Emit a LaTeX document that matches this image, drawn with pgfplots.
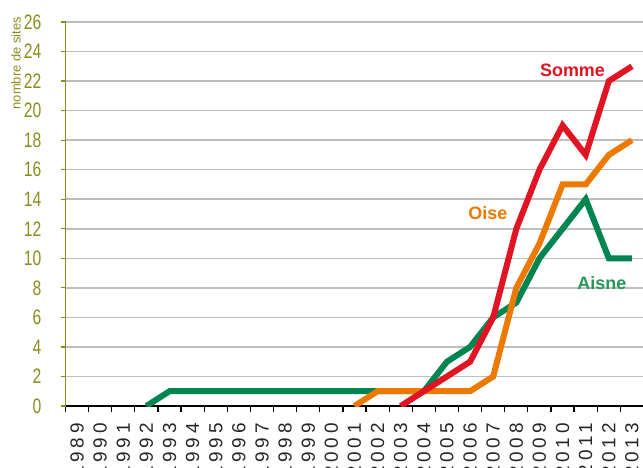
\documentclass[border=0pt]{standalone}
\usepackage{pgfplots}
\pgfplotsset{compat=1.18}
\usepackage{fontspec}
\setmainfont{Liberation Sans}

\definecolor{olivetxt}{RGB}{140,140,30}
\definecolor{aisne}{RGB}{0,133,80}
\definecolor{aisnetxt}{RGB}{40,150,90}
\definecolor{oise}{RGB}{237,122,0}
\definecolor{somme}{RGB}{224,20,35}
\definecolor{gridgray}{RGB}{192,190,188}

\begin{document}
\begin{tikzpicture}
\begin{axis}[
    width=578bp, height=384bp, scale only axis,
    xmin=1988.5, xmax=2013.5,
    ymin=0, ymax=26,
    axis x line=bottom, axis y line=left,
    x axis line style={-, black, line width=1.8bp},
    y axis line style={-, olivetxt, line width=1.4bp},
    tick align=outside,
    xtick={1989,...,2013},
    major x tick style={draw=none},
    minor xtick={1988.5,1989.5,...,2013.5},
    minor x tick style={black, line width=1.2bp},
    minor tick length=6bp,
    ytick={0,2,...,26},
    y tick style={olivetxt, line width=1.2bp},
    major tick length=5bp,
    ymajorgrids,
    grid style={gridgray, line width=1.5bp},
    xticklabel={\pgfmathprintnumber[1000 sep={}, assume math mode=true]{\tick}},
    xticklabel style={rotate=90, anchor=east, inner sep=0pt, text=black!85,
        font=\fontsize{19}{19}\selectfont\addfontfeature{LetterSpace=20}},
    xticklabel shift=12bp,
    yticklabel={\scalebox{0.75}[1]{\pgfmathprintnumber[assume math mode=true]{\tick}}},
    yticklabel style={anchor=east, inner sep=0pt, text=olivetxt,
        font=\fontsize{21}{21}\selectfont},
    yticklabel shift=19bp,
]
% Aisne
\addplot[aisne, line width=6bp] coordinates {
 (1992,0) (1993,1) (1994,1) (1995,1) (1996,1) (1997,1) (1998,1) (1999,1)
 (2000,1) (2001,1) (2002,1) (2003,1) (2004,1) (2005,3) (2006,4) (2007,6)
 (2008,7) (2009,10) (2010,12) (2011,14) (2012,10) (2013,10)};
% Oise
\addplot[oise, line width=6bp] coordinates {
 (2001,0) (2002,1) (2003,1) (2004,1) (2005,1) (2006,1) (2007,2) (2008,8)
 (2009,11) (2010,15) (2011,15) (2012,17) (2013,18)};
% Somme
\addplot[somme, line width=6bp] coordinates {
 (2003,0) (2004,1) (2005,2) (2006,3) (2007,6) (2008,12) (2009,16)
 (2010,19) (2011,17) (2012,22) (2013,23)};

\node[text=somme, font=\bfseries\fontsize{18}{18}\selectfont] at (axis cs:2010.43,22.75) {Somme};
\node[text=oise, font=\bfseries\fontsize{18}{18}\selectfont] at (axis cs:2006.77,13.07) {Oise};
\node[text=aisnetxt, font=\bfseries\fontsize{18}{18}\selectfont] at (axis cs:2011.7,8.35) {Aisne};
\end{axis}
\node[rotate=90, anchor=east, inner sep=0pt, text=olivetxt,
      font=\fontsize{13}{13}\selectfont]
      at ([shift={(-49.5bp,5bp)}]current axis.north west) {nombre de sites};
\pgfresetboundingbox
\path[use as bounding box] ([shift={(-65.5bp,-62bp)}]current axis.south west)
    rectangle ([shift={(-0.5bp,22bp)}]current axis.north east);
\end{tikzpicture}
\end{document}
